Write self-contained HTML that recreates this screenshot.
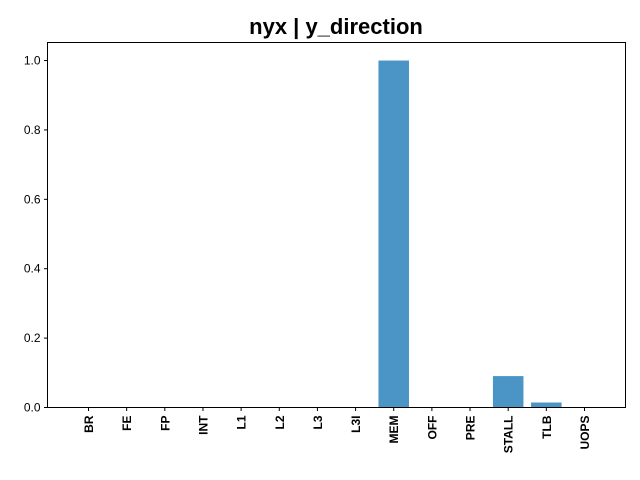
<!DOCTYPE html>
<html><head><meta charset="utf-8"><style>
body{margin:0;background:#fff;}
svg{display:block;font-family:"Liberation Sans",sans-serif;}
</style></head><body>
<svg id="chart" width="640" height="480" viewBox="0 0 640 480">
<rect width="640" height="480" fill="#fff"/>
<text x="336" y="34" text-anchor="middle" font-size="22" font-weight="bold">nyx | y_direction</text>
<g id="bars"></g>
<g id="yticks"></g>
<g id="xticks"></g>
<rect x="47.5" y="42.5" width="578" height="365" fill="none" stroke="#000" stroke-width="1"/>
</svg>
<script>
const categories=["BR","FE","FP","INT","L1","L2","L3","L3I","MEM","OFF","PRE","STALL","TLB","UOPS"];
const values=[0,0,0,0,0,0,0,0,1.0,0,0,0.0905,0.0144,0];
const yTickValues=[0,0.2,0.4,0.6,0.8,1.0];
const yTickLabels=["0.0","0.2","0.4","0.6","0.8","1.0"];
const NS="http://www.w3.org/2000/svg";
const L=47.5,R=625.5,T=42.5,B=407.5;
const ymin=0,ymax=1.052;
function y(v){return B-(v-ymin)/(ymax-ymin)*(B-T);}
const n=categories.length;
const pad=0.5+0.4+0.2; // approximate margin in category units
const xmin=-0.4-0.675,xmax=n-1+0.4+0.675;
function x(i){return L+(i-xmin)/(xmax-xmin)*(R-L);}
const bw=0.8*(x(1)-x(0));
const gb=document.getElementById('bars'),gy=document.getElementById('yticks'),gx=document.getElementById('xticks');
function mk(t,a){const e=document.createElementNS(NS,t);for(const k in a)e.setAttribute(k,a[k]);return e;}
values.forEach((v,i)=>{
 const r=mk('rect',{x:x(i)-bw/2,y:y(v),width:bw,height:y(0)-y(v),fill:'#4b94c6'});
 
 
 gb.appendChild(r);
});
yTickValues.forEach((v,i)=>{
 const l=mk('line',{x1:L-3.5,x2:L,y1:y(v),y2:y(v),stroke:'#000'});
 
 
 gy.appendChild(l);
 const t=mk('text',{x:L-7,y:y(v)+4,'text-anchor':'end','font-size':'12'});
 t.textContent=yTickLabels[i];
 
 
 gy.appendChild(t);
});
categories.forEach((c,i)=>{
 const l=mk('line',{x1:x(i),x2:x(i),y1:B,y2:B+3.5,stroke:'#000'});
 
 
 gx.appendChild(l);
 const t=mk('text',{transform:`translate(${x(i)+4.5},${B+8}) rotate(-90)`,'text-anchor':'end','font-size':'12','font-weight':'bold'});
 t.textContent=c;
 
 
 gx.appendChild(t);
});
</script>
</body></html>
